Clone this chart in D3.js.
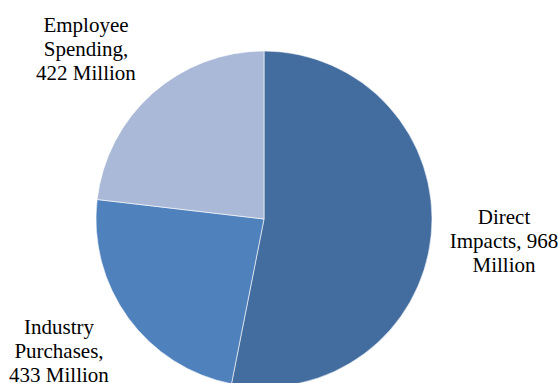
<!DOCTYPE html>
<html>
<head>
<meta charset="utf-8">
<script src="https://cdn.jsdelivr.net/npm/d3@7/dist/d3.min.js"></script>
</head>
<body style="margin:0">
<svg id="chart" width="559" height="383"></svg>
<script>
// Economic impact components (millions)
const categories = ["Direct Impacts", "Industry Purchases", "Employee Spending"];
const values = [968, 433, 422];
const colors = ["#436C9F", "#4F81BD", "#AAB9D7"];
// Label lines, one array per slice
const labelLines = [
  ["Direct", "Impacts, 968", "Million"],
  ["Industry", "Purchases,", "433 Million"],
  ["Employee", "Spending,", "422 Million"]
];

const svg = d3.select("#chart").style("display", "block");
const cx = 264, cy = 219, radius = 168;

const pie = d3.pie().sort(null).value(d => d.value);
const arcs = pie(categories.map((c, i) => ({ name: c, value: values[i], idx: i })));
const arc = d3.arc().innerRadius(0).outerRadius(radius);

const g = svg.append("g").attr("transform", `translate(${cx},${cy})`);
g.selectAll("path")
  .data(arcs)
  .join("path")
  .attr("d", arc)
  .attr("fill", d => colors[d.data.idx])
  .attr("stroke", "#ffffff")
  .attr("stroke-width", 0.6);

// Labels placed outside the slices
const labelPos = [
  { x: 504, y: 224 },
  { x: 59, y: 334 },
  { x: 86, y: 32 }
];
const lineH = 24;
const rows = [];
labelLines.forEach((lines, i) => lines.forEach((line, j) => rows.push({ i, j, line })));

svg.selectAll("text")
  .data(rows)
  .join("text")
  .attr("x", d => labelPos[d.i].x)
  .attr("y", d => labelPos[d.i].y + d.j * lineH)
  .attr("text-anchor", "middle")
  .style("font-family", `"Times New Roman", "Liberation Serif", Tinos, "Nimbus Roman", FreeSerif, Times, serif`)
  .style("font-size", "21px")
  .text(d => d.line);
</script>
</body>
</html>
